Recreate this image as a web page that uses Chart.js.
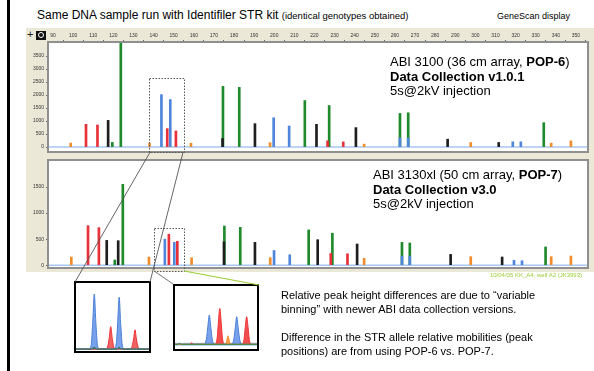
<!DOCTYPE html>
<html><head><meta charset="utf-8">
<script src="https://cdn.jsdelivr.net/npm/chart.js@4.4.1/dist/chart.umd.min.js"></script>
<style>
html,body{margin:0;padding:0;background:#fff;}
body{width:594px;height:371px;position:relative;overflow:hidden;font-family:"Liberation Sans",Arial,sans-serif;color:#000;}
.abs{position:absolute;}
#leftbar{left:7px;top:0;width:3px;height:371px;background:#000;}
#gs{left:26px;top:28px;width:568px;height:244px;background:#ebe8d8;}
#title{left:37px;top:8px;font-size:12px;line-height:14px;white-space:nowrap;}
#title small{font-size:9.5px;}
#gsd{left:497px;top:10px;font-size:9px;line-height:12px;white-space:nowrap;}
.ann{font-size:13px;line-height:14.5px;white-space:nowrap;}
#plus{left:27px;top:29px;font-size:11px;line-height:11px;color:#222;}
#mag{left:36px;top:31px;width:10px;height:9px;background:#111;}
#mag:after{content:"";position:absolute;left:2px;top:1px;width:4px;height:4px;border:1px solid #fff;border-radius:50%;}
#date{left:470px;top:271px;width:112px;text-align:right;font-size:6px;line-height:8px;color:#9acd32;white-space:nowrap;}
.para{left:281px;font-size:11px;line-height:14px;white-space:nowrap;}
.box{border:2px solid #000;background:#fff;}
canvas{display:block;}
</style></head>
<body>
<div id="leftbar" class="abs"></div>
<div id="title" class="abs">Same DNA sample run with Identifiler STR kit <small>(identical genotypes obtained)</small></div>
<div id="gsd" class="abs">GeneScan display</div>
<div id="gs" class="abs"></div>
<div id="plus" class="abs">+</div>
<div id="mag" class="abs"></div>
<canvas id="cTop" class="abs" style="left:26px;top:28px" width="568" height="128"></canvas>
<canvas id="cBot" class="abs" style="left:26px;top:156px" width="568" height="116"></canvas>
<div class="abs ann" style="left:390px;top:55px">ABI 3100 (36 cm array, <b>POP-6</b>)<br><b>Data Collection v1.0.1</b><br>5s@2kV injection</div>
<div class="abs ann" style="left:373px;top:168px">ABI 3130xl (50 cm array, <b>POP-7</b>)<br><b>Data Collection v3.0</b><br>5s@2kV injection</div>
<div id="date" class="abs">10/04/05 KK_A4; well A2 (JK3993)</div>
<div id="box1" class="abs box" style="left:74px;top:281px;width:73px;height:68px"><canvas id="cIn1" width="73" height="68"></canvas></div>
<div id="box2" class="abs box" style="left:173px;top:284px;width:82px;height:63px"><canvas id="cIn2" width="82" height="63"></canvas></div>
<div class="abs para" style="top:288px">Relative peak height differences are due to “variable<br>binning” with newer ABI data collection versions.</div>
<div class="abs para" style="top:330px">Difference in the STR allele relative mobilities (peak<br>positions) are from using POP-6 vs. POP-7.</div>
<canvas id="ov" class="abs" style="left:0;top:0;pointer-events:none" width="594" height="371"></canvas>
<script>
// ---------- data (size in bp, peak height in RFU) ----------
const rulerTicks = [90,100,110,120,130,140,150,160,170,180,190,200,210,220,230,240,250,260,270,280,290,300,310,320,330,340,350];
const topYTicks = [0,500,1000,1500,2000,2500,3000,3500];
const botYTicks = [0,500,1000,1500];

// ABI 3100, POP-6
const topBlueBp   = [143.9,148.3,199.7,207.4,262.5,266.6,318.6,322.6];
const topBlueH    = [2016,1826,1128,811,355,355,203,203];
const topGreenBp  = [119.5,123.7,174.5,182.6,215.2,227.3,262.5,266.6,334.0];
const topGreenH   = [180,4100,2333,2295,1788,1598,1293,1319,939];
const topBlackBp  = [117.4,174.3,190.4,221.0,240.6,286.2,311.6];
const topBlackH   = [1027,330,900,875,749,304,177];
const topRedBp    = [106.4,112.1,146.8,151.1,226.5,234.3];
const topRedH     = [875,850,710,620,240,200];
const topOrangeBp = [98.8,138.0,158.6,197.9,244.7,297.7,337.7,347.5];
const topOrangeH  = [152,150,150,170,114,177,150,240];

// ABI 3130xl, POP-7
const botBlueBp   = [145.6,150.3,199.9,207.7,263.5,267.4,319.2,323.2];
const botBlueH    = [500,438,282,200,175,175,94,85];
const botGreenBp  = [120.7,124.7,175.2,183.1,217.1,228.9,263.5,267.4,334.9];
const botGreenH   = [100,1553,752,726,677,614,438,426,350];
const botBlackBp  = [116.7,122.4,175.0,190.4,221.6,241.2,287.7,313.3];
const botBlackH   = [476,470,450,438,489,406,207,157];
const botRedBp    = [107.4,112.8,147.6,151.8,228.1,236.4];
const botRedH     = [758,720,595,457,225,219];
const botOrangeBp = [99.1,137.7,158.9,198.0,244.7,297.7,337.7,347.5];
const botOrangeH  = [156,156,143,143,131,163,163,175];

// zoomed traces (inset 1: POP-6, inset 2: POP-7)
const in1BlueX  = [140.66,143.0,143.35,143.62,143.9,144.18,144.45,144.8,147.4,147.75,148.02,148.3,148.58,148.85,149.2,153.58];
const in1BlueY  = [0,0,160,950,2016,950,160,0,0,150,880,1900,880,150,0,0];
const in1RedX   = [140.66,146.0,146.3,146.55,146.8,147.05,147.3,147.6,150.3,150.6,150.85,151.1,151.35,151.6,151.9,153.58];
const in1RedY   = [0,0,120,430,825,430,120,0,0,110,370,705,370,110,0,0];
const in1GreenX = [140.66,143.5,143.9,144.3,147.9,148.3,148.7,153.58];
const in1GreenY = [0,0,70,0,0,60,0,0];

const in2BlueX   = [139.73,144.75,145.1,145.35,145.6,145.85,146.1,146.45,149.45,149.8,150.05,150.3,150.55,150.8,151.15,153.77];
const in2BlueY   = [0,0,90,300,500,300,90,0,0,85,280,470,280,85,0,0];
const in2RedX    = [139.73,142.3,142.6,142.9,146.6,146.95,147.15,147.4,147.65,147.85,148.2,151.2,151.55,151.75,152.0,152.25,152.45,152.8,153.77];
const in2RedY    = [0,0,25,0,0,110,360,612,360,110,0,0,85,280,470,280,85,0,0];
const in2OrangeX = [139.73,148.35,148.6,148.8,149.0,149.25,153.77];
const in2OrangeY = [0,0,70,146,70,0,0];
const in2GreenX  = [139.73,140.3,140.5,140.7,153.77];
const in2GreenY  = [0,0,22,0,0];

// zoom windows marked on the panels: [fromBp, toBp, topRFU]
const topZoomWin = [137.8,155.2,2650];
const botZoomWin = [140.3,155.2,720];

// ---------- styling ----------
const COL = {blue:'#4f86dc', green:'#1f8a2c', black:'#1e1e1e', red:'#e8303a', orange:'#f08c2c'};
Chart.defaults.font.family = '"Liberation Sans", Arial, sans-serif';
Chart.defaults.animation = false;

const pts = (xs, ys) => xs.map((x,i)=>({x, y:ys[i]}));

const framePlugin = {
  id:'frame',
  beforeDraw(chart, args, opts){
    if(!opts.on) return;
    const a=chart.chartArea, g=chart.ctx;
    g.save(); g.fillStyle='#fff'; g.fillRect(a.left,a.top,a.right-a.left,a.bottom-a.top); g.restore();
  },
  beforeDatasetsDraw(chart, args, opts){
    const a=chart.chartArea, g=chart.ctx;
    const y0=chart.scales.y.getPixelForValue(0);
    g.save(); g.strokeStyle=opts.baseColor||'#a8c6ef'; g.lineWidth=opts.baseWidth||1.5;
    g.beginPath(); g.moveTo(a.left,y0); g.lineTo(a.right,y0); g.stroke(); g.restore();
  },
  afterDraw(chart, args, opts){
    if(!opts.on) return;
    const a=chart.chartArea, g=chart.ctx;
    g.save(); g.strokeStyle='#8f8f8f'; g.lineWidth=2;
    g.strokeRect(a.left-1,a.top-1,a.right-a.left+2,a.bottom-a.top+2); g.restore();
  }
};

function barSet(bp,h,color,order){
  return {type:'bar', data:pts(bp,h), backgroundColor:color, borderWidth:0, barThickness:2, grouped:false, order};
}

function makePanel(id, sets, ymin, ymax, yTicks, showRuler, pad){
  return new Chart(document.getElementById(id), {
    type:'bar',
    data:{datasets:sets},
    options:{
      responsive:false, animation:false,
      layout:{padding:pad},
      plugins:{legend:{display:false}, tooltip:{enabled:false}, frame:{on:true}},
      scales:{
        x:{type:'linear', position:'top', min:88, max:355.5, offset:false, display:showRuler,
           afterFit:s=>{s.height=showRuler?15:0;},
           afterBuildTicks:s=>{s.ticks=rulerTicks.map(v=>({value:v}));},
           ticks:{autoSkip:false, maxRotation:0, font:{size:5}, color:'#333', padding:1, includeBounds:false, callback:v=>String(v)},
           grid:{drawOnChartArea:false, tickLength:3, color:'#666'}, border:{display:false}},
        y:{min:ymin, max:ymax,
           afterFit:s=>{s.width=23;},
           afterBuildTicks:s=>{s.ticks=yTicks.map(v=>({value:v}));},
           ticks:{font:{size:5}, color:'#333', padding:2, callback:v=>String(v)},
           grid:{drawOnChartArea:false, tickLength:3, color:'#666'}, border:{display:false}}
      }
    },
    plugins:[framePlugin]
  });
}

const topChart = makePanel('cTop', [
  barSet(topBlackBp,topBlackH,COL.black,0),
  barSet(topBlueBp,topBlueH,COL.blue,1),
  barSet(topRedBp,topRedH,COL.red,2),
  barSet(topOrangeBp,topOrangeH,COL.orange,3),
  barSet(topGreenBp,topGreenH,COL.green,4)
], -150, 4000, topYTicks, true, {top:0,right:7,bottom:4,left:0});

const botChart = makePanel('cBot', [
  barSet(botBlackBp,botBlackH,COL.black,0),
  barSet(botBlueBp,botBlueH,COL.blue,1),
  barSet(botRedBp,botRedH,COL.red,2),
  barSet(botOrangeBp,botOrangeH,COL.orange,3),
  barSet(botGreenBp,botGreenH,COL.green,4)
], -35, 2000, botYTicks, false, {top:3,right:7,bottom:5,left:0});

function traceSet(xs,ys,color,fill,order){
  return {type:'line', data:pts(xs,ys), borderColor:color, backgroundColor:fill, borderWidth:1,
          fill:'origin', pointRadius:0, cubicInterpolationMode:'monotone', order};
}
function makeInset(id, sets, xmin, xmax, ymin, ymax, baseW){
  return new Chart(document.getElementById(id), {
    type:'line', data:{datasets:sets},
    options:{responsive:false, animation:false, layout:{padding:0},
      plugins:{legend:{display:false}, tooltip:{enabled:false}, frame:{on:false, baseWidth:baseW}},
      scales:{x:{type:'linear',min:xmin,max:xmax,display:false}, y:{min:ymin,max:ymax,display:false}}},
    plugins:[framePlugin]
  });
}
makeInset('cIn1', [
  traceSet(in1GreenX,in1GreenY,'#2c6e3a','rgba(44,110,58,0.8)',0),
  traceSet(in1BlueX,in1BlueY,'#4a7fd6','rgba(95,145,230,0.85)',1),
  traceSet(in1RedX,in1RedY,'#e33','rgba(238,70,70,0.85)',2)
], 140.66, 153.58, -70, 2420, 2);
makeInset('cIn2', [
  traceSet(in2GreenX,in2GreenY,'#2c8a3a','rgba(44,138,58,0.8)',0),
  traceSet(in2OrangeX,in2OrangeY,'#f08c2c','rgba(245,150,60,0.9)',1),
  traceSet(in2BlueX,in2BlueY,'#4a7fd6','rgba(95,145,230,0.85)',2),
  traceSet(in2RedX,in2RedY,'#e33','rgba(240,60,60,0.9)',3)
], 139.73, 153.77, -80, 995, 3);

// ---------- zoom rectangles and connectors ----------
(function(){
  const g=document.getElementById('ov').getContext('2d');
  const offT={l:26,t:28}, offB={l:26,t:156};
  const tx=topChart.scales.x, ty=topChart.scales.y, bx=botChart.scales.x, by=botChart.scales.y;
  const r1={x1:offT.l+tx.getPixelForValue(topZoomWin[0]), x2:offT.l+tx.getPixelForValue(topZoomWin[1]),
            y1:offT.t+ty.getPixelForValue(topZoomWin[2]), y2:offT.t+topChart.chartArea.bottom+1};
  const r2={x1:offB.l+bx.getPixelForValue(botZoomWin[0]), x2:offB.l+bx.getPixelForValue(botZoomWin[1]),
            y1:offB.t+by.getPixelForValue(botZoomWin[2]), y2:offB.t+botChart.chartArea.bottom+4};
  g.save(); g.strokeStyle='#555'; g.lineWidth=1; g.setLineDash([1.5,1.5]);
  [r1,r2].forEach(r=>g.strokeRect(Math.round(r.x1)+0.5,Math.round(r.y1)+0.5,Math.round(r.x2-r.x1),Math.round(r.y2-r.y1)));
  g.restore();
  const b1=document.getElementById('box1').getBoundingClientRect();
  const b2=document.getElementById('box2').getBoundingClientRect();
  function ln(x1,y1,x2,y2,c,w){g.save();g.strokeStyle=c;g.lineWidth=w;g.beginPath();g.moveTo(x1,y1);g.lineTo(x2,y2);g.stroke();g.restore();}
  ln(r1.x1+1,r1.y2,b1.left+1,b1.top+1,'#555',0.9);
  ln(r1.x2-1,r1.y2,b1.right-1,b1.top+1,'#555',0.9);
  ln(r2.x1,r2.y2,b2.left,b2.top,'#666',0.9);
  ln(r2.x2,r2.y2,b2.right,b2.top+1,'#9acd32',1.2);
})();
</script>
</body></html>
